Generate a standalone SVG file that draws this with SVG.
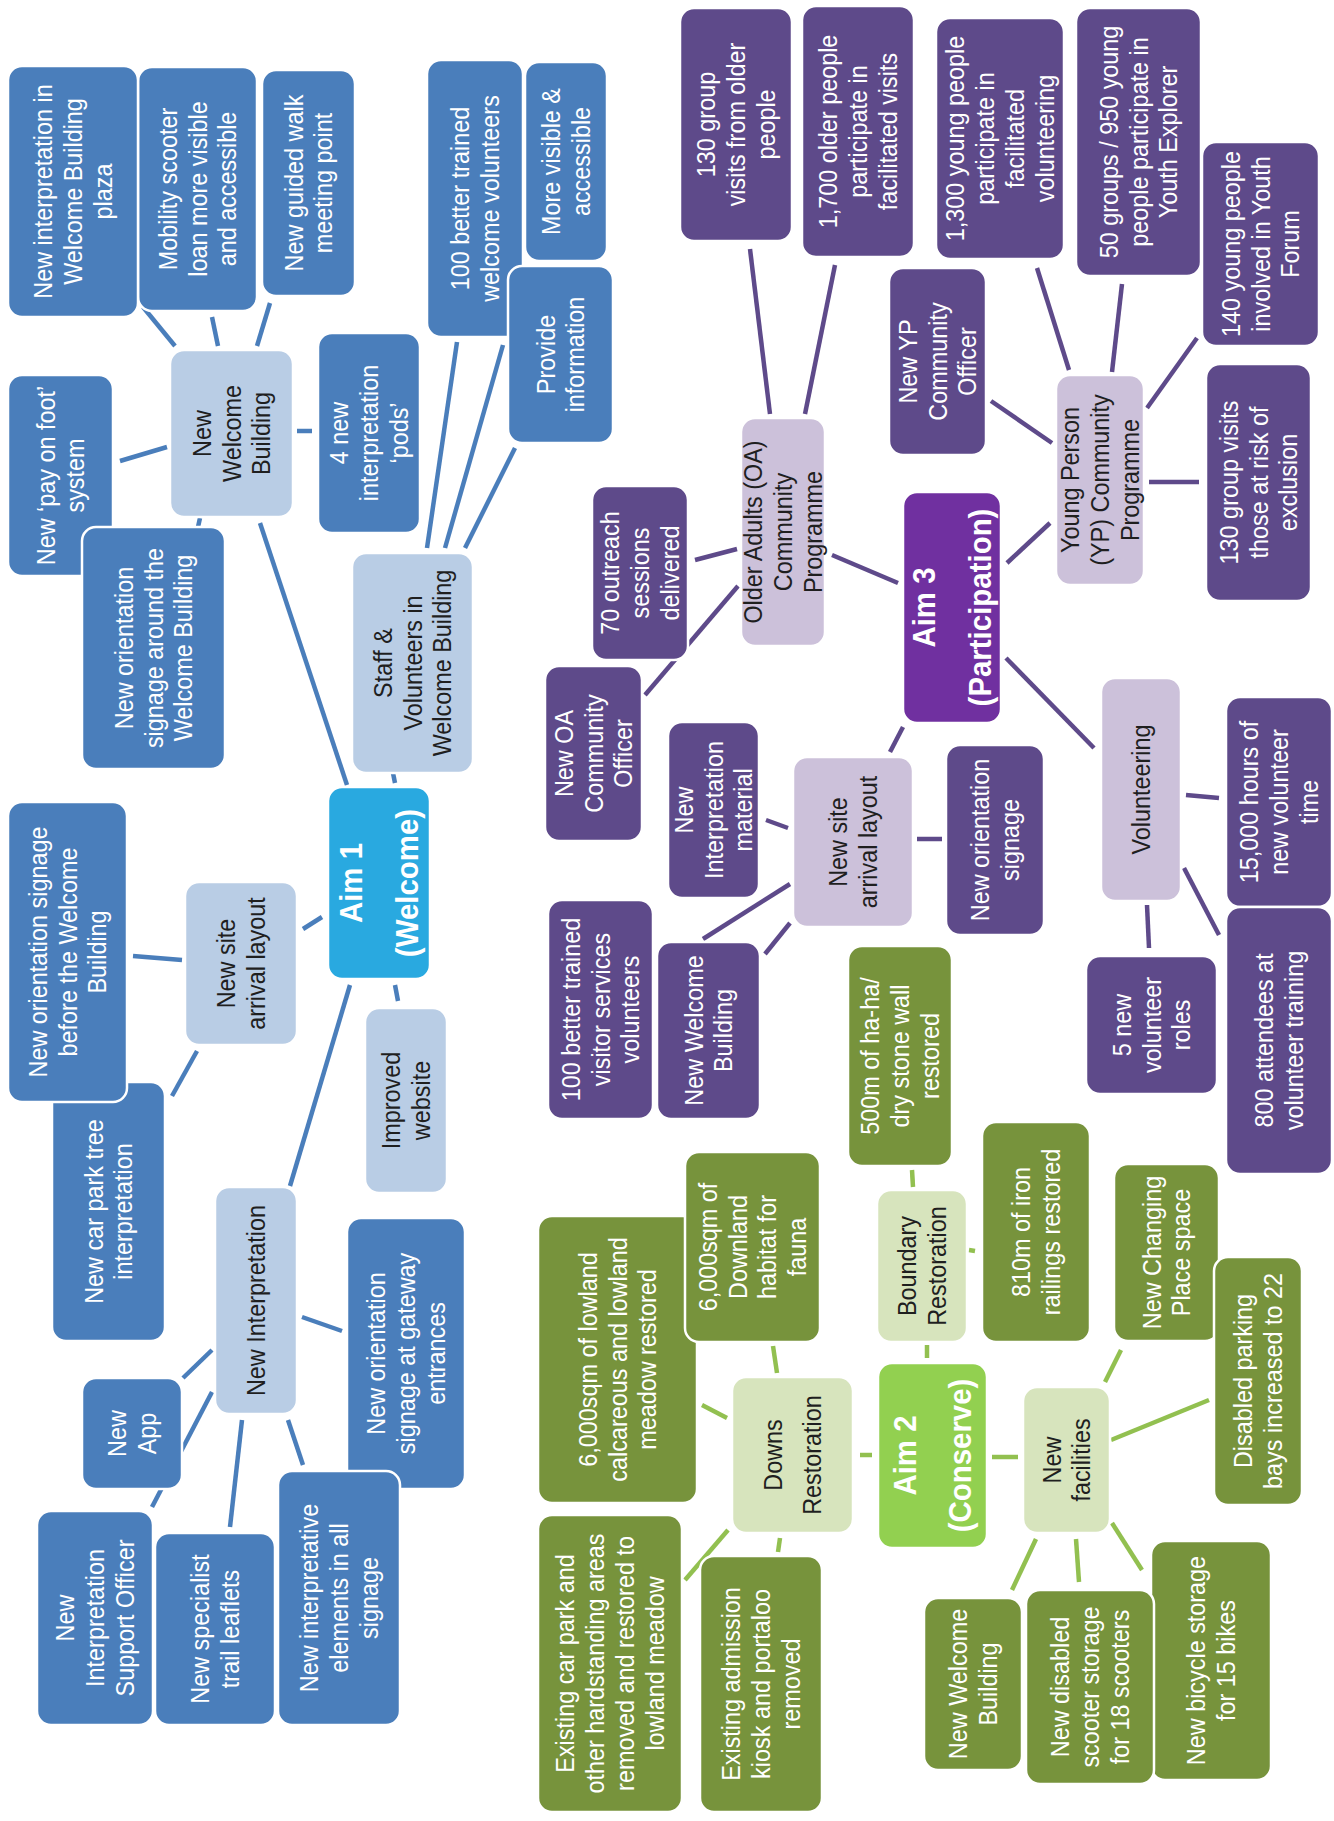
<svg xmlns="http://www.w3.org/2000/svg" width="1334" height="1821" viewBox="0 0 1334 1821">
<style>
text{font-family:"Liberation Sans",Arial,sans-serif;font-size:26px;text-anchor:middle}
.node rect{stroke:#fff;stroke-width:2.5}
.b rect{fill:#4a7ebb}.b text{fill:#fff}
.lb rect{fill:#b9cde5}.lb text{fill:#1f1f1f}
.a1 rect{fill:#29a9e0}
.p rect{fill:#5e4a8a}.p text{fill:#fff}
.lp rect{fill:#ccc1da}.lp text{fill:#1f1f1f}
.a3 rect{fill:#7030a0}
.g rect{fill:#77933c}.g text{fill:#fff}
.lg rect{fill:#d7e4bd}.lg text{fill:#1f1f1f}
.a2 rect{fill:#92d050}
.aim text{fill:#fff;font-weight:bold;font-size:32px}
.cb line{stroke:#4a7ebb;stroke-width:4.5}
.cp line{stroke:#5e4a8a;stroke-width:4.5}
.cg line{stroke:#92c050;stroke-width:4.5}
</style>
<rect width="1334" height="1821" fill="#fff"/>
<g id="connectors" stroke-linecap="butt">
<g class="cb">
<line x1="143" y1="307" x2="175" y2="346"/>
<line x1="212" y1="317" x2="218" y2="346"/>
<line x1="270" y1="303" x2="257" y2="346"/>
<line x1="120" y1="461" x2="167" y2="447"/>
<line x1="297" y1="431" x2="312" y2="431"/>
<line x1="200" y1="518" x2="198" y2="527"/>
<line x1="260" y1="523" x2="347" y2="785"/>
<line x1="427" y1="548" x2="457" y2="342"/>
<line x1="445" y1="548" x2="503" y2="345"/>
<line x1="465" y1="548" x2="515" y2="448"/>
<line x1="393" y1="773" x2="395" y2="783"/>
<line x1="303" y1="929" x2="322" y2="917"/>
<line x1="133" y1="956" x2="182" y2="960"/>
<line x1="172" y1="1096" x2="197" y2="1051"/>
<line x1="395" y1="985" x2="398" y2="1001"/>
<line x1="350" y1="985" x2="290" y2="1186"/>
<line x1="302" y1="1317" x2="342" y2="1331"/>
<line x1="183" y1="1378" x2="212" y2="1350"/>
<line x1="212" y1="1392" x2="152" y2="1507"/>
<line x1="242" y1="1420" x2="230" y2="1527"/>
<line x1="288" y1="1420" x2="303" y2="1465"/>
</g>
<g class="cp">
<line x1="750" y1="249" x2="770" y2="414"/>
<line x1="835" y1="265" x2="805" y2="414"/>
<line x1="695" y1="560" x2="737" y2="549"/>
<line x1="738" y1="586" x2="645" y2="695"/>
<line x1="832" y1="555" x2="898" y2="583"/>
<line x1="1007" y1="563" x2="1050" y2="523"/>
<line x1="1006" y1="658" x2="1094" y2="748"/>
<line x1="890" y1="752" x2="903" y2="727"/>
<line x1="766" y1="820" x2="788" y2="828"/>
<line x1="917" y1="839" x2="942" y2="839"/>
<line x1="703" y1="939" x2="790" y2="884"/>
<line x1="765" y1="954" x2="790" y2="923"/>
<line x1="1037" y1="268" x2="1069" y2="370"/>
<line x1="1122" y1="284" x2="1112" y2="372"/>
<line x1="1197" y1="338" x2="1147" y2="408"/>
<line x1="991" y1="401" x2="1052" y2="443"/>
<line x1="1149" y1="482" x2="1199" y2="482"/>
<line x1="1186" y1="795" x2="1219" y2="798"/>
<line x1="1184" y1="868" x2="1219" y2="935"/>
<line x1="1147" y1="905" x2="1149" y2="948"/>
</g>
<g class="cg">
<line x1="927" y1="1345" x2="927" y2="1358"/>
<line x1="912" y1="1170" x2="913" y2="1187"/>
<line x1="969" y1="1250" x2="975" y2="1251"/>
<line x1="773" y1="1346" x2="777" y2="1373"/>
<line x1="702" y1="1405" x2="727" y2="1418"/>
<line x1="860" y1="1455" x2="872" y2="1455"/>
<line x1="992" y1="1457" x2="1018" y2="1457"/>
<line x1="728" y1="1530" x2="685" y2="1580"/>
<line x1="780" y1="1538" x2="778" y2="1552"/>
<line x1="1105" y1="1382" x2="1121" y2="1350"/>
<line x1="1111" y1="1440" x2="1209" y2="1400"/>
<line x1="1112" y1="1523" x2="1142" y2="1570"/>
<line x1="1076" y1="1539" x2="1079" y2="1582"/>
<line x1="1036" y1="1539" x2="1012" y2="1590"/>
</g>
</g>

<!-- Aim 1 (blue) -->
<g id="n-mobility" class="node b" transform="translate(197.5,189)"><rect x="-59.5" y="-122" width="119" height="244" rx="14"/><text transform="rotate(-90) scale(0.9,1)"><tspan x="0" y="-21">Mobility scooter</tspan><tspan x="0" y="9">loan more visible</tspan><tspan x="0" y="39">and accessible</tspan></text></g>
<g id="n-plaza" class="node b" transform="translate(73,191.5)"><rect x="-65" y="-125.5" width="130" height="251" rx="14"/><text transform="rotate(-90) scale(0.9,1)"><tspan x="0" y="-21">New interpretation in</tspan><tspan x="0" y="9">Welcome Building</tspan><tspan x="0" y="39">plaza</tspan></text></g>
<g id="n-guidedwalk" class="node b" transform="translate(308.5,183)"><rect x="-46.5" y="-113" width="93" height="226" rx="14"/><text transform="rotate(-90) scale(0.9,1)"><tspan x="0" y="-6">New guided walk</tspan><tspan x="0" y="24">meeting point</tspan></text></g>
<g id="n-payonfoot" class="node b" transform="translate(60.5,475.5)"><rect x="-52.5" y="-100.5" width="105" height="201" rx="14"/><text transform="rotate(-90) scale(0.9,1)"><tspan x="0" y="-6">New ‘pay on foot’</tspan><tspan x="0" y="24">system</tspan></text></g>
<g id="n-orient-around" class="node b" transform="translate(153.5,648)"><rect x="-71.5" y="-121" width="143" height="242" rx="14"/><text transform="rotate(-90) scale(0.9,1)"><tspan x="0" y="-21">New orientation</tspan><tspan x="0" y="9">signage around the</tspan><tspan x="0" y="39">Welcome Building</tspan></text></g>
<g id="n-pods" class="node b" transform="translate(369,433)"><rect x="-51" y="-100" width="102" height="200" rx="14"/><text transform="rotate(-90) scale(0.9,1)"><tspan x="0" y="-21">4 new</tspan><tspan x="0" y="9">interpretation</tspan><tspan x="0" y="39">‘pods’</tspan></text></g>
<g id="n-welcomevol" class="node b" transform="translate(475,198.5)"><rect x="-48" y="-138.5" width="96" height="277" rx="14"/><text transform="rotate(-90) scale(0.9,1)"><tspan x="0" y="-6">100 better trained</tspan><tspan x="0" y="24">welcome volunteers</tspan></text></g>
<g id="n-morevisible" class="node b" transform="translate(566,161.5)"><rect x="-41" y="-99.5" width="82" height="199" rx="14"/><text transform="rotate(-90) scale(0.9,1)"><tspan x="0" y="-6">More visible &amp;</tspan><tspan x="0" y="24">accessible</tspan></text></g>
<g id="n-provideinfo" class="node b" transform="translate(560.5,354.5)"><rect x="-52.5" y="-88.5" width="105" height="177" rx="14"/><text transform="rotate(-90) scale(0.9,1)"><tspan x="0" y="-6">Provide</tspan><tspan x="0" y="24">information</tspan></text></g>
<g id="n-carpark-tree" class="node b" transform="translate(108.5,1211.5)"><rect x="-56.5" y="-129.5" width="113" height="259" rx="14"/><text transform="rotate(-90) scale(0.9,1)"><tspan x="0" y="-6">New car park tree</tspan><tspan x="0" y="24">interpretation</tspan></text></g>
<g id="n-orient-before" class="node b" transform="translate(67.5,952)"><rect x="-59.5" y="-150" width="119" height="300" rx="14"/><text transform="rotate(-90) scale(0.9,1)"><tspan x="0" y="-21">New orientation signage</tspan><tspan x="0" y="9">before the Welcome</tspan><tspan x="0" y="39">Building</tspan></text></g>
<g id="n-app" class="node b" transform="translate(132,1433.5)"><rect x="-50" y="-55.5" width="100" height="111" rx="14"/><text transform="rotate(-90) scale(0.9,1)"><tspan x="0" y="-6">New</tspan><tspan x="0" y="24">App</tspan></text></g>
<g id="n-support-officer" class="node b" transform="translate(95,1618)"><rect x="-58" y="-107" width="116" height="214" rx="14"/><text transform="rotate(-90) scale(0.9,1)"><tspan x="0" y="-21">New</tspan><tspan x="0" y="9">Interpretation</tspan><tspan x="0" y="39">Support Officer</tspan></text></g>
<g id="n-leaflets" class="node b" transform="translate(215,1629)"><rect x="-60" y="-96" width="120" height="192" rx="14"/><text transform="rotate(-90) scale(0.9,1)"><tspan x="0" y="-6">New specialist</tspan><tspan x="0" y="24">trail leaflets</tspan></text></g>
<g id="n-orient-gateway" class="node b" transform="translate(406,1353.5)"><rect x="-59" y="-135.5" width="118" height="271" rx="14"/><text transform="rotate(-90) scale(0.9,1)"><tspan x="0" y="-21">New orientation</tspan><tspan x="0" y="9">signage at gateway</tspan><tspan x="0" y="39">entrances</tspan></text></g>
<g id="n-interp-elements" class="node b" transform="translate(339,1598)"><rect x="-61" y="-127" width="122" height="254" rx="14"/><text transform="rotate(-90) scale(0.9,1)"><tspan x="0" y="-21">New interpretative</tspan><tspan x="0" y="9">elements in all</tspan><tspan x="0" y="39">signage</tspan></text></g>
<g id="n-nwb" class="node lb" transform="translate(231.5,433.5)"><rect x="-61.5" y="-83.5" width="123" height="167" rx="14"/><text transform="rotate(-90) scale(0.9,1)"><tspan x="0" y="-21">New</tspan><tspan x="0" y="9">Welcome</tspan><tspan x="0" y="39">Building</tspan></text></g>
<g id="n-staff" class="node lb" transform="translate(412.5,663)"><rect x="-60.5" y="-110" width="121" height="220" rx="14"/><text transform="rotate(-90) scale(0.9,1)"><tspan x="0" y="-21">Staff &amp;</tspan><tspan x="0" y="9">Volunteers in</tspan><tspan x="0" y="39">Welcome Building</tspan></text></g>
<g id="n-site-arrival-1" class="node lb" transform="translate(241,963.5)"><rect x="-56" y="-81.5" width="112" height="163" rx="14"/><text transform="rotate(-90) scale(0.9,1)"><tspan x="0" y="-6">New site</tspan><tspan x="0" y="24">arrival layout</tspan></text></g>
<g id="n-website" class="node lb" transform="translate(406,1100.5)"><rect x="-41" y="-92.5" width="82" height="185" rx="14"/><text transform="rotate(-90) scale(0.9,1)"><tspan x="0" y="-6">Improved</tspan><tspan x="0" y="24">website</tspan></text></g>
<g id="n-new-interp" class="node lb" transform="translate(256,1300.5)"><rect x="-41" y="-113.5" width="82" height="227" rx="14"/><text transform="rotate(-90) scale(0.9,1)"><tspan x="0" y="9">New Interpretation</tspan></text></g>
<g id="n-aim1" class="node a1 aim" transform="translate(379,883)"><rect x="-51" y="-96" width="102" height="192" rx="14"/><text transform="rotate(-90) scale(0.92,1)"><tspan x="0" y="-17">Aim 1</tspan><tspan x="0" y="39">(Welcome)</tspan></text></g>

<!-- Aim 3 (purple) -->
<g id="n-oa130" class="node p" transform="translate(736,124.5)"><rect x="-56" y="-116.5" width="112" height="233" rx="14"/><text transform="rotate(-90) scale(0.9,1)"><tspan x="0" y="-21">130 group</tspan><tspan x="0" y="9">visits from older</tspan><tspan x="0" y="39">people</tspan></text></g>
<g id="n-oa1700" class="node p" transform="translate(858,131.5)"><rect x="-56" y="-125.5" width="112" height="251" rx="14"/><text transform="rotate(-90) scale(0.9,1)"><tspan x="0" y="-21">1,700 older people</tspan><tspan x="0" y="9">participate in</tspan><tspan x="0" y="39">facilitated visits</tspan></text></g>
<g id="n-yp1300" class="node p" transform="translate(1000,138.5)"><rect x="-64" y="-120.5" width="128" height="241" rx="14"/><text transform="rotate(-90) scale(0.9,1)"><tspan x="0" y="-36">1,300 young people</tspan><tspan x="0" y="-6">participate in</tspan><tspan x="0" y="24">facilitated</tspan><tspan x="0" y="54">volunteering</tspan></text></g>
<g id="n-yp50" class="node p" transform="translate(1138.5,142)"><rect x="-62.5" y="-134" width="125" height="268" rx="14"/><text transform="rotate(-90) scale(0.9,1)"><tspan x="0" y="-21">50 groups / 950 young</tspan><tspan x="0" y="9">people participate in</tspan><tspan x="0" y="39">Youth Explorer</tspan></text></g>
<g id="n-yp140" class="node p" transform="translate(1260.5,244)"><rect x="-58.5" y="-102" width="117" height="204" rx="14"/><text transform="rotate(-90) scale(0.9,1)"><tspan x="0" y="-21">140 young people</tspan><tspan x="0" y="9">involved in Youth</tspan><tspan x="0" y="39">Forum</tspan></text></g>
<g id="n-ypofficer" class="node p" transform="translate(937.5,361.5)"><rect x="-48.5" y="-93.5" width="97" height="187" rx="14"/><text transform="rotate(-90) scale(0.9,1)"><tspan x="0" y="-21">New YP</tspan><tspan x="0" y="9">Community</tspan><tspan x="0" y="39">Officer</tspan></text></g>
<g id="n-yp130" class="node p" transform="translate(1258.5,482.5)"><rect x="-52.5" y="-118.5" width="105" height="237" rx="14"/><text transform="rotate(-90) scale(0.9,1)"><tspan x="0" y="-21">130 group visits</tspan><tspan x="0" y="9">those at risk of</tspan><tspan x="0" y="39">exclusion</tspan></text></g>
<g id="n-outreach" class="node p" transform="translate(640,573)"><rect x="-48" y="-87" width="96" height="174" rx="14"/><text transform="rotate(-90) scale(0.9,1)"><tspan x="0" y="-21">70 outreach</tspan><tspan x="0" y="9">sessions</tspan><tspan x="0" y="39">delivered</tspan></text></g>
<g id="n-oaofficer" class="node p" transform="translate(593.5,753.5)"><rect x="-48.5" y="-87.5" width="97" height="175" rx="14"/><text transform="rotate(-90) scale(0.9,1)"><tspan x="0" y="-21">New OA</tspan><tspan x="0" y="9">Community</tspan><tspan x="0" y="39">Officer</tspan></text></g>
<g id="n-interp-material" class="node p" transform="translate(713.5,810)"><rect x="-45.5" y="-88" width="91" height="176" rx="14"/><text transform="rotate(-90) scale(0.9,1)"><tspan x="0" y="-21">New</tspan><tspan x="0" y="9">Interpretation</tspan><tspan x="0" y="39">material</tspan></text></g>
<g id="n-visitor-vol" class="node p" transform="translate(600.5,1009.5)"><rect x="-52.5" y="-109.5" width="105" height="219" rx="14"/><text transform="rotate(-90) scale(0.9,1)"><tspan x="0" y="-21">100 better trained</tspan><tspan x="0" y="9">visitor services</tspan><tspan x="0" y="39">volunteers</tspan></text></g>
<g id="n-nwb-p" class="node p" transform="translate(708.5,1030.5)"><rect x="-51.5" y="-88.5" width="103" height="177" rx="14"/><text transform="rotate(-90) scale(0.9,1)"><tspan x="0" y="-6">New Welcome</tspan><tspan x="0" y="24">Building</tspan></text></g>
<g id="n-orient-p" class="node p" transform="translate(995,840)"><rect x="-49" y="-95" width="98" height="190" rx="14"/><text transform="rotate(-90) scale(0.9,1)"><tspan x="0" y="-6">New orientation</tspan><tspan x="0" y="24">signage</tspan></text></g>
<g id="n-vol15000" class="node p" transform="translate(1279,802)"><rect x="-53" y="-105" width="106" height="210" rx="14"/><text transform="rotate(-90) scale(0.9,1)"><tspan x="0" y="-21">15,000 hours of</tspan><tspan x="0" y="9">new volunteer</tspan><tspan x="0" y="39">time</tspan></text></g>
<g id="n-vol800" class="node p" transform="translate(1279,1040.5)"><rect x="-53" y="-133.5" width="106" height="267" rx="14"/><text transform="rotate(-90) scale(0.9,1)"><tspan x="0" y="-6">800 attendees at</tspan><tspan x="0" y="24">volunteer training</tspan></text></g>
<g id="n-vol5" class="node p" transform="translate(1151.5,1025)"><rect x="-65.5" y="-69" width="131" height="138" rx="14"/><text transform="rotate(-90) scale(0.9,1)"><tspan x="0" y="-21">5 new</tspan><tspan x="0" y="9">volunteer</tspan><tspan x="0" y="39">roles</tspan></text></g>
<g id="n-oa-prog" class="node lp" transform="translate(783,532)"><rect x="-42" y="-114" width="84" height="228" rx="14"/><text transform="rotate(-90) scale(0.9,1)"><tspan x="0" y="-21">Older Adults (OA)</tspan><tspan x="0" y="9">Community</tspan><tspan x="0" y="39">Programme</tspan></text></g>
<g id="n-yp-prog" class="node lp" transform="translate(1100,480)"><rect x="-44" y="-105" width="88" height="210" rx="14"/><text transform="rotate(-90) scale(0.9,1)"><tspan x="0" y="-21">Young Person</tspan><tspan x="0" y="9">(YP) Community</tspan><tspan x="0" y="39">Programme</tspan></text></g>
<g id="n-site-arrival-3" class="node lp" transform="translate(853,842)"><rect x="-60" y="-85" width="120" height="170" rx="14"/><text transform="rotate(-90) scale(0.9,1)"><tspan x="0" y="-6">New site</tspan><tspan x="0" y="24">arrival layout</tspan></text></g>
<g id="n-volunteering" class="node lp" transform="translate(1141,789.5)"><rect x="-40" y="-111.5" width="80" height="223" rx="14"/><text transform="rotate(-90) scale(0.9,1)"><tspan x="0" y="9">Volunteering</tspan></text></g>
<g id="n-aim3" class="node a3 aim" transform="translate(952,607.5)"><rect x="-49" y="-115.5" width="98" height="231" rx="14"/><text transform="rotate(-90) scale(0.92,1)"><tspan x="0" y="-17">Aim 3</tspan><tspan x="0" y="39">(Participation)</tspan></text></g>

<!-- Aim 2 (green) -->
<g id="n-haha" class="node g" transform="translate(900,1056)"><rect x="-52" y="-110" width="104" height="220" rx="14"/><text transform="rotate(-90) scale(0.9,1)"><tspan x="0" y="-21">500m of ha-ha/</tspan><tspan x="0" y="9">dry stone wall</tspan><tspan x="0" y="39">restored</tspan></text></g>
<g id="n-railings" class="node g" transform="translate(1036,1232)"><rect x="-54" y="-110" width="108" height="220" rx="14"/><text transform="rotate(-90) scale(0.9,1)"><tspan x="0" y="-6">810m of iron</tspan><tspan x="0" y="24">railings restored</tspan></text></g>
<g id="n-changing" class="node g" transform="translate(1166.5,1252.5)"><rect x="-52.5" y="-88.5" width="105" height="177" rx="14"/><text transform="rotate(-90) scale(0.9,1)"><tspan x="0" y="-6">New Changing</tspan><tspan x="0" y="24">Place space</tspan></text></g>
<g id="n-parking" class="node g" transform="translate(1258,1381)"><rect x="-44" y="-124" width="88" height="248" rx="14"/><text transform="rotate(-90) scale(0.9,1)"><tspan x="0" y="-6">Disabled parking</tspan><tspan x="0" y="24">bays increased to 22</tspan></text></g>
<g id="n-lowland" class="node g" transform="translate(617.5,1359.5)"><rect x="-79.5" y="-143.5" width="159" height="287" rx="14"/><text transform="rotate(-90) scale(0.9,1)"><tspan x="0" y="-21">6,000sqm of lowland</tspan><tspan x="0" y="9">calcareous and lowland</tspan><tspan x="0" y="39">meadow restored</tspan></text></g>
<g id="n-downland" class="node g" transform="translate(752.5,1247)"><rect x="-67.5" y="-95" width="135" height="190" rx="14"/><text transform="rotate(-90) scale(0.9,1)"><tspan x="0" y="-36">6,000sqm of</tspan><tspan x="0" y="-6">Downland</tspan><tspan x="0" y="24">habitat for</tspan><tspan x="0" y="54">fauna</tspan></text></g>
<g id="n-carpark-removed" class="node g" transform="translate(610,1663.5)"><rect x="-72" y="-148.5" width="144" height="297" rx="14"/><text transform="rotate(-90) scale(0.9,1)"><tspan x="0" y="-36">Existing car park and</tspan><tspan x="0" y="-6">other hardstanding areas</tspan><tspan x="0" y="24">removed and restored to</tspan><tspan x="0" y="54">lowland meadow</tspan></text></g>
<g id="n-kiosk" class="node g" transform="translate(761,1684)"><rect x="-61" y="-128" width="122" height="256" rx="14"/><text transform="rotate(-90) scale(0.9,1)"><tspan x="0" y="-21">Existing admission</tspan><tspan x="0" y="9">kiosk and portaloo</tspan><tspan x="0" y="39">removed</tspan></text></g>
<g id="n-nwb-g" class="node g" transform="translate(973,1684)"><rect x="-49" y="-86" width="98" height="172" rx="14"/><text transform="rotate(-90) scale(0.9,1)"><tspan x="0" y="-6">New Welcome</tspan><tspan x="0" y="24">Building</tspan></text></g>
<g id="n-bicycle" class="node g" transform="translate(1211,1660.5)"><rect x="-60" y="-119.5" width="120" height="239" rx="14"/><text transform="rotate(-90) scale(0.9,1)"><tspan x="0" y="-6">New bicycle storage</tspan><tspan x="0" y="24">for 15 bikes</tspan></text></g>
<g id="n-scooter" class="node g" transform="translate(1090,1687)"><rect x="-64" y="-97" width="128" height="194" rx="14"/><text transform="rotate(-90) scale(0.9,1)"><tspan x="0" y="-21">New disabled</tspan><tspan x="0" y="9">scooter storage</tspan><tspan x="0" y="39">for 18 scooters</tspan></text></g>
<g id="n-boundary" class="node lg" transform="translate(922,1266)"><rect x="-45" y="-76" width="90" height="152" rx="14"/><text transform="rotate(-90) scale(0.9,1)"><tspan x="0" y="-6">Boundary</tspan><tspan x="0" y="24">Restoration</tspan></text></g>
<g id="n-downs" class="node lg" transform="translate(792.5,1455)"><rect x="-60.5" y="-78" width="121" height="156" rx="14"/><text transform="rotate(-90) scale(0.9,1)"><tspan x="0" y="-11">Downs</tspan><tspan x="0" y="29">Restoration</tspan></text></g>
<g id="n-facilities" class="node lg" transform="translate(1066.5,1460)"><rect x="-43.5" y="-73" width="87" height="146" rx="14"/><text transform="rotate(-90) scale(0.9,1)"><tspan x="0" y="-6">New</tspan><tspan x="0" y="24">facilities</tspan></text></g>
<g id="n-aim2" class="node a2 aim" transform="translate(932.5,1455.5)"><rect x="-54.5" y="-92.5" width="109" height="185" rx="14"/><text transform="rotate(-90) scale(0.92,1)"><tspan x="0" y="-17">Aim 2</tspan><tspan x="0" y="39">(Conserve)</tspan></text></g>
</svg>
